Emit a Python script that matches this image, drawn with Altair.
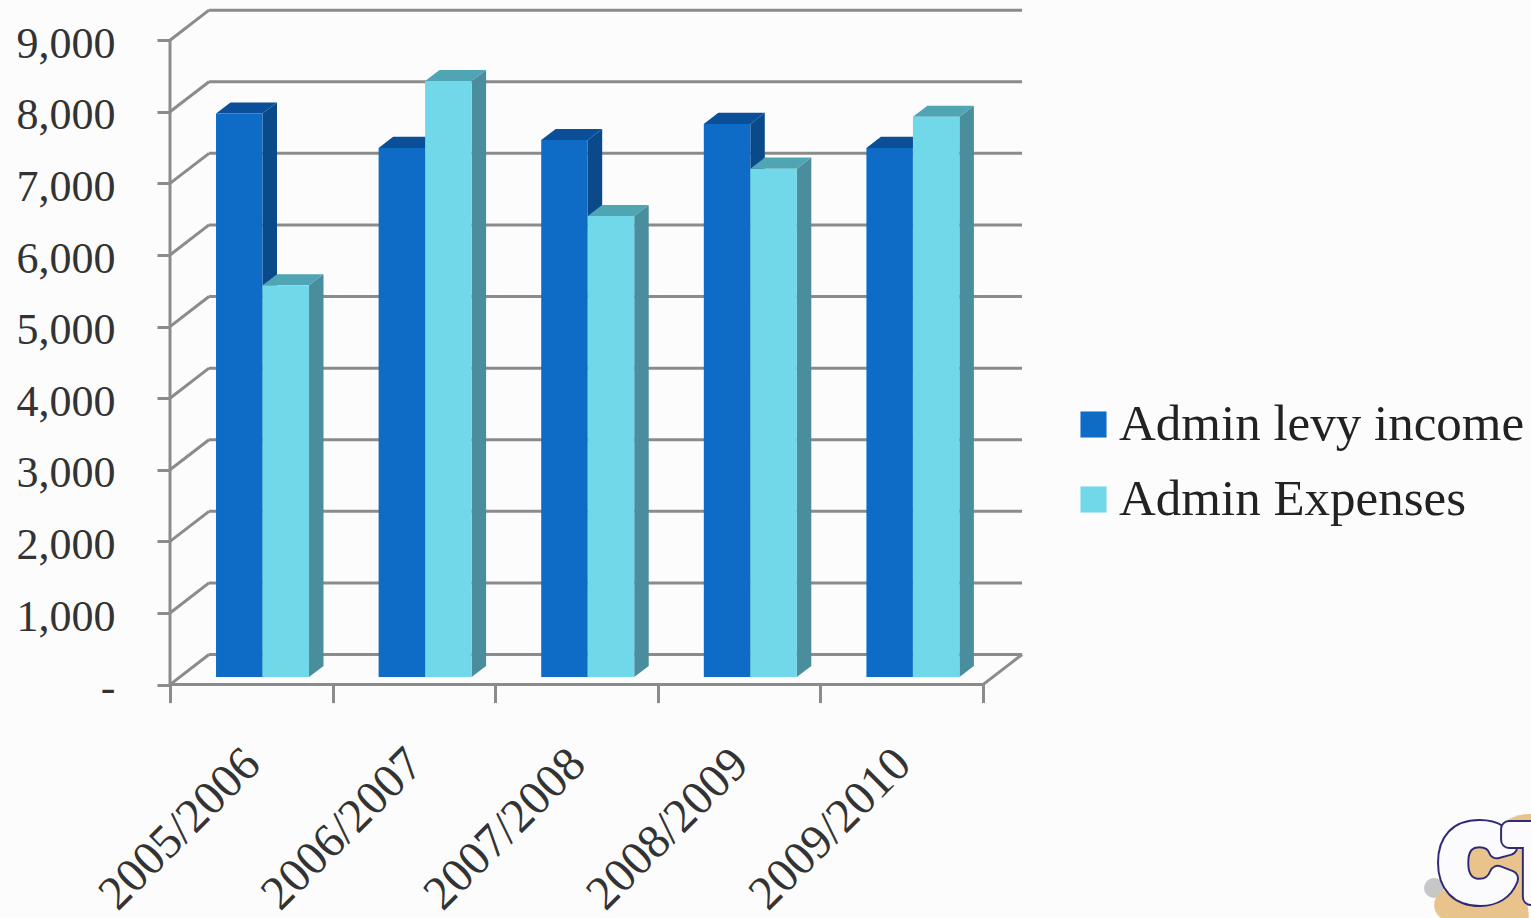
import altair as alt
import pandas as pd

# Chart values
years = ["2005/2006", "2006/2007", "2007/2008", "2008/2009", "2009/2010"]
income = [7870, 7390, 7500, 7725, 7390]
expenses = [5470, 8325, 6440, 7100, 7825]
series_names = ["Admin levy income", "Admin Expenses"]
levels = list(range(0, 10000, 1000))

W, H = 1531, 918
SERIF = "Liberation Serif"
GREY = "#8b8b8b"
INK = "#333333"

# Scale geometry: x counts categories from the axis origin, y is in value units
PX_PER_CAT = 162.6
PX_PER_UNIT = 0.0716
ORIGIN_X, ORIGIN_Y = 170, 684.6
x_scale = alt.Scale(domain=[-ORIGIN_X / PX_PER_CAT, (W - ORIGIN_X) / PX_PER_CAT], nice=False, zero=False)
y_scale = alt.Scale(domain=[-(H - ORIGIN_Y) / PX_PER_UNIT, ORIGIN_Y / PX_PER_UNIT], nice=False, zero=False)

# 3-D projection offsets, in scale units
WALL_DX, WALL_DY = 0.24, 420
BAR_DX, BAR_DY = 0.089, 154
BAR_LIFT = 106
BAR_START, BAR_W = 0.283, 0.286

n = len(years)


def X(field):
    return alt.X(field, type="quantitative", scale=x_scale, title=None)


def Y(field):
    return alt.Y(field, type="quantitative", scale=y_scale, title=None)


# Back wall, left wall and floor
grid = pd.DataFrame({"x": [WALL_DX] * len(levels), "x2": [n + WALL_DX] * len(levels),
                     "y": [v + WALL_DY for v in levels]})
side = pd.DataFrame({"x": [0] * len(levels), "x2": [WALL_DX] * len(levels),
                     "y": levels, "y2": [v + WALL_DY for v in levels]})
floor = pd.DataFrame({"x": [0, n], "x2": [n, n + WALL_DX], "y": [0, 0], "y2": [0, WALL_DY]})
upright = pd.DataFrame({"x": [0], "y": [0], "y2": [9000]})

grid_layer = alt.Chart(grid).mark_rule(color=GREY, strokeWidth=3).encode(
    x=X("x"), x2="x2", y=Y("y"))
side_layer = alt.Chart(side).mark_rule(color=GREY, strokeWidth=3).encode(
    x=X("x"), x2="x2", y=Y("y"), y2="y2")
floor_layer = alt.Chart(floor).mark_rule(color=GREY, strokeWidth=3).encode(
    x=X("x"), x2="x2", y=Y("y"), y2="y2")
upright_layer = alt.Chart(upright).mark_rule(color=GREY, strokeWidth=3).encode(
    x=X("x"), y=Y("y"), y2="y2")

# Real axes, pulled into the plot so they sit on the chart's front edge
y_axis = alt.Axis(
    values=levels, offset=-ORIGIN_X, domain=False, grid=False, tickSize=13, tickWidth=3,
    tickColor=GREY, labelFont=SERIF, labelFontSize=44, labelColor=INK, labelPadding=42,
    labelOffset=4,
    labelExpr="datum.value === 0 ? '-\u00a0\u00a0' : format(datum.value, ',')",
)
x_axis = alt.Axis(
    values=list(range(n + 1)), offset=-(H - ORIGIN_Y), domain=False, grid=False, tickSize=18,
    tickWidth=3, tickColor=GREY, labels=False,
)
axis_layer = alt.Chart(upright).mark_point(opacity=0).encode(
    x=alt.X("x:Q", scale=x_scale, axis=x_axis, title=None),
    y=alt.Y("y:Q", scale=y_scale, axis=y_axis, title=None),
)

color_scale = alt.Scale(domain=series_names, range=["#0f6cc6", "#70d8e8"])
legend = alt.Legend(
    orient="none", legendX=1068, legendY=399, title=None, symbolType="square", symbolSize=680,
    symbolStrokeWidth=0, labelFont=SERIF, labelFontSize=51, labelColor="#222222", labelOffset=0,
    labelLimit=600, rowPadding=23,
)


def bar_layers(values, name, slot, side_color, top_color):
    """Side face, top face and front face of one series' 3-D columns."""
    x0 = [i + BAR_START + slot * BAR_W for i in range(n)]
    x1 = [x + BAR_W for x in x0]
    top = [v + BAR_LIFT for v in values]
    front = pd.DataFrame({"x": x0, "x2": x1, "y": [BAR_LIFT] * n, "y2": top, "series": name})

    side_rows, top_rows = [], []
    for i in range(n):
        side_rows += [
            {"g": i, "x": x1[i], "low": BAR_LIFT, "high": top[i]},
            {"g": i, "x": x1[i] + BAR_DX, "low": BAR_LIFT + BAR_DY, "high": top[i] + BAR_DY},
        ]
        top_rows += [
            {"g": i, "y": top[i], "left": x0[i], "right": x1[i]},
            {"g": i, "y": top[i] + BAR_DY, "left": x0[i] + BAR_DX, "right": x1[i] + BAR_DX},
        ]

    sides = alt.Chart(pd.DataFrame(side_rows)).mark_area(color=side_color, orient="vertical").encode(
        x=X("x"), y=Y("high"), y2="low", detail="g:N")
    tops = alt.Chart(pd.DataFrame(top_rows)).mark_area(color=top_color, orient="horizontal").encode(
        y=Y("y"), x=X("left"), x2="right", detail="g:N")
    fronts = alt.Chart(front).mark_rect().encode(
        x=X("x"), x2="x2", y=Y("y"), y2="y2",
        color=alt.Color("series:N", scale=color_scale, legend=legend),
    )
    return [sides, tops, fronts]


bars = (bar_layers(income, series_names[0], 0, "#0b4a8a", "#0b4f98")
        + bar_layers(expenses, series_names[1], 1, "#4a8d9c", "#4fa5b3"))

# Slanted category labels
cat_labels = pd.DataFrame({"x": [i + 0.51 for i in range(n)], "y": [-1010] * n, "label": years})
cat_layer = alt.Chart(cat_labels).mark_text(
    angle=315, align="right", baseline="middle", font=SERIF, fontSize=48, color=INK
).encode(x=X("x"), y=Y("y"), text="label:N")

# Corner logo: tan blob with heavy outlined lettering, running off the page
logo_df = pd.DataFrame({"k": [0]})
TAN = "#e8c48c"
NAVY = "#2f2a78"


def blob(px, py, size, color=TAN, opacity=1.0):
    return alt.Chart(logo_df).mark_circle(color=color, opacity=opacity, size=size).encode(
        x=alt.value(px), y=alt.value(py))


def letter(ch, px):
    """An outlined heavy letter: a navy halo under a white one."""
    common = dict(text=ch, font="Liberation Sans", fontWeight="bold", fontSize=98, align="left",
                  baseline="alphabetic", strokeJoin="round")
    outer = alt.Chart(logo_df).mark_text(fill=NAVY, stroke=NAVY, strokeWidth=18, **common)
    inner = alt.Chart(logo_df).mark_text(fill="#fbfbfd", stroke="#fbfbfd", strokeWidth=14, **common)
    pos = dict(x=alt.value(px), y=alt.value(897))
    return [outer.encode(**pos), inner.encode(**pos)]


logo = [
    blob(1434, 888, 400, "#777777", 0.4),
    blob(1490, 868, 7800),
    blob(1530, 860, 8500),
    blob(1450, 905, 1000),
    blob(1490, 915, 6000),
    *letter("C", 1442),
    *letter("T", 1508),
]

chart = alt.layer(
    grid_layer, side_layer, floor_layer, upright_layer, axis_layer, *bars, cat_layer, *logo
).properties(
    width=W, height=H, padding=0, background="#fcfcfc",
    autosize=alt.AutoSizeParams(type="none"),
).configure_view(stroke=None)

chart.save("out.html", embed_options={"renderer": "svg", "actions": False})
